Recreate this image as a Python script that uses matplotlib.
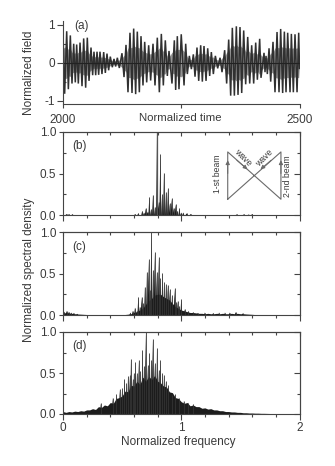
#!/usr/bin/env python3
"""Field trace and three spectra, values read off the published figure."""

import matplotlib
matplotlib.use('Agg')
import numpy as np
import matplotlib.pyplot as plt
from matplotlib.ticker import MultipleLocator

plt.rcParams['font.family'] = ['Liberation Sans', 'DejaVu Sans']

# ── Panel (a): extrema of the field ──────────────────────────────────
time_a = [2000, 2003.5, 2007.8, 2011.3, 2015.5, 2019, 2022.6, 2026, 2028.9, 2032.4,
          2036, 2040.2, 2043.7, 2047.9, 2051.4, 2055, 2059.2, 2062.7, 2065.5, 2069.1,
          2071.9, 2075.4, 2078.2, 2082.4, 2086, 2089.5, 2093, 2096.5, 2100, 2104.3,
          2107.8, 2111.3, 2114.9, 2119.1, 2124.7, 2129, 2133.2, 2137.4, 2141.6, 2145.9,
          2149.4, 2153.6, 2157.1, 2161.4, 2164.9, 2169.1, 2172.7, 2176.9, 2181.1, 2185.3,
          2190.3, 2194.5, 2199.4, 2203.7, 2207.9, 2212.1, 2216.3, 2220.6, 2224.1, 2230.4,
          2235.4, 2238.2, 2241.7, 2245.2, 2250, 2255.9, 2259.4, 2262.9, 2267.1, 2271.4,
          2275.6, 2279.1, 2283.3, 2286.9, 2291.1, 2294.6, 2298.1, 2302.4, 2305.9, 2310.1,
          2313.6, 2317.9, 2322.1, 2327, 2332, 2336.2, 2341.8, 2346, 2350.3, 2354.5,
          2358, 2362.3, 2366.5, 2370, 2374.2, 2377.8, 2382, 2386.2, 2390.5, 2394.7,
          2398.9, 2403.1, 2407.4, 2410.9, 2415.8, 2418.6, 2425, 2427.1, 2429.2, 2432,
          2435.6, 2439.1, 2444, 2448.2, 2452.5, 2456.7, 2460.2, 2464.4, 2468, 2471.5,
          2475, 2480, 2482.8, 2487, 2490.5, 2494.8, 2498.3, 2500]
field_a = [.75, -.82, .83, -.7, .72, -.55, .5, -.52, .48, -.55,
           .53, -.62, .64, -.66, .66, -.48, .4, -.33, .29, -.33,
           .29, -.32, .29, -.3, .28, -.27, .24, -.2, .16, -.12,
           .1, -.1, .13, -.14, .25, -.38, .47, -.78, .79, -.8,
           .9, -.83, .82, -.78, .7, -.6, .55, -.52, .46, -.47,
           .5, -.6, .66, -.78, .76, -.6, .59, -.35, .31, -.55,
           .59, -.72, .7, -.7, .75, -.6, .5, -.3, .18, -.17,
           .22, -.37, .4, -.48, .46, -.5, .44, -.48, .38, -.35,
           .28, -.3, .18, -.15, .13, -.25, .33, -.55, .61, -.87,
           .92, -.87, .96, -.85, .94, -.8, .85, -.57, .68, -.55,
           .46, -.55, .53, -.45, .63, -.4, .26, -.25, .18, -.3,
           .38, -.5, .55, -.78, .81, -.78, .89, -.8, .82, -.78,
           .79, -.78, .76, -.78, .75, -.78, .79, -.15]

# ── Panel (b): spectral lines ────────────────────────────────────────
freq_b = [.03, .05, .08, .61, .637, .67, .685, .70, .715, .73, .745, .761, .778, .795, .808,
          .823, .838, .854, .871, .888, .903, .919, .936, .953, .968, .984, 1.0, 1.017,
          1.045, 1.08, 1.47, 1.53, 1.57, 1.6]
amp_b = [.012, .01, .008, .01, .02, .05, .03, .08, .04, .22, .07, .24, .1, 1.0, .16,
         .735, .25, .51, .28, .32, .14, .2, .09, .13, .05, .08, .03, .03,
         .02, .012, .008, .008, .006, .012]

# ── Panel (c): lines over a dense floor ──────────────────────────────
freq_c = [.01, .03, .05, .07, .09, .12, .57, .59, .609, .626, .637, .65, .665, .68, .693,
          .71, .724, .735, .747, .761, .775, .792, .809, .823, .84, .855, .871, .886,
          .902, .922, .944, .958, .97, .985, 1.0, 1.03, 1.06, 1.1, 1.14, 1.2, 1.27, 1.32,
          1.37, 1.41, 1.46, 1.52]
amp_c = [.04, .05, .04, .03, .025, .015, .03, .05, .09, .05, .22, .1, .22, .14, .34,
         .52, .67, .3, 1.0, .54, .76, .52, .70, .44, .51, .40, .37, .36,
         .31, .24, .32, .16, .17, .11, .19, .07, .05, .035, .025, .03, .025, .03,
         .03, .03, .035, .02]

# ── Panel (d): lines over a broad floor ──────────────────────────────
freq_d = [.32, .42, .45, .48, .50, .519, .535, .55, .563, .575, .59, .60, .612, .625, .640,
          .655, .671, .685, .699, .715, .730, .745, .758, .775, .795, .81, .823, .84,
          .854, .87, .891, .92, .95, .98, 1.02, 1.06, 1.1]
amp_d = [.13, .2, .24, .3, .32, .43, .38, .46, .47, .67, .43, .5, .63, .5, .66,
         .52, .78, .58, 1.0, .6, .75, .66, .92, .62, .8, .54, .66, .5,
         .48, .4, .35, .23, .24, .2, .16, .14, .12]

# floors share one frequency grid, every 0.025
floor_f = np.linspace(0, 2, 81)
floor_c = [.02, .03, .025, .02, .015, .012, .01, .008, .006,
           .005, .004, .004, .003, .003, .003, .003, .003,
           .003, .004, .004, .005, .006, .01, .015, .03,
           .04, .06, .08, .13, .17, .2, .24, .25,
           .25, .22, .2, .18, .14, .1, .08, .06,
           .05, .04, .03, .03, .025, .02, .02, .015,
           .02, .015, .015, .02, .015, .02, .015, .015,
           .02, .015, .02, .015, .015, .012, .01, .008,
           .005, .003, .002, .002, .002, .002, .002, .002,
           .002, .002, .002, .002, .002, .002, .002, .002]
floor_d = [.03, .02, .03, .025, .035, .03, .04, .035, .05,
           .05, .065, .055, .09, .08, .11, .1, .14,
           .13, .19, .2, .22, .28, .27, .35, .34,
           .4, .36, .45, .4, .46, .42, .47, .4,
           .38, .34, .33, .27, .26, .2, .19, .15,
           .13, .14, .1, .11, .09, .09, .07, .075,
           .06, .065, .05, .05, .04, .04, .03, .03,
           .025, .025, .02, .02, .015, .015, .012, .012,
           .01, .01, .008, .008, .007, .006, .006, .005,
           .005, .005, .004, .004, .004, .003, .003, .003]

X_LABELS_A = ['2000', '', '2500']
TEXT = '#3a3a3a'
INK = '#1c1c1c'
EDGE = '#444444'
W, H = 335, 466


def box(top, bottom):
    return [63 / W, 1 - bottom / H, 236.5 / W, (bottom - top) / H]


def spikes(ax, freqs, amps, half=0.008):
    # tapered lines, wide at the foot and thin at the tip
    for f, a in zip(freqs, amps):
        ax.fill([f - half, f, f + half], [0, a, 0], color=INK, linewidth=0)
    ax.vlines(freqs, 0, amps, color='#333333', linewidth=0.6)


def spectrum_axes(top, bottom, name, name_y):
    ax = fig.add_axes(box(top, bottom))
    ax.set_xlim(0, 2)
    ax.set_ylim(0, 1)
    ax.xaxis.set_major_locator(MultipleLocator(1))
    ax.xaxis.set_minor_locator(MultipleLocator(0.2))
    ax.yaxis.set_major_locator(MultipleLocator(0.5))
    ax.yaxis.set_minor_locator(MultipleLocator(0.25))
    ax.yaxis.set_major_formatter('{x:.1f}')
    ax.tick_params(which='both', color=EDGE, labelcolor=TEXT, labelsize=8.5, width=0.8, pad=2)
    ax.tick_params(axis='x', which='major', direction='out', length=4, labelbottom=False)
    ax.tick_params(axis='x', which='minor', direction='out', length=2.5)
    ax.tick_params(axis='y', which='major', direction='out', length=3)
    ax.tick_params(axis='y', which='minor', direction='in', length=2)

    # top and right ticks point inward, unlike bottom and left
    top_ax = ax.secondary_xaxis('top')
    top_ax.xaxis.set_major_locator(MultipleLocator(1))
    top_ax.xaxis.set_minor_locator(MultipleLocator(0.2))
    top_ax.tick_params(which='major', direction='in', length=3, width=0.8, color=EDGE, labeltop=False)
    top_ax.tick_params(which='minor', direction='in', length=2.5, width=0.8, color=EDGE)
    right_ax = ax.secondary_yaxis('right')
    right_ax.yaxis.set_major_locator(MultipleLocator(0.5))
    right_ax.yaxis.set_minor_locator(MultipleLocator(0.25))
    right_ax.tick_params(which='major', direction='in', length=4, width=0.8, color=EDGE, labelright=False)
    right_ax.tick_params(which='minor', direction='in', length=2.5, width=0.8, color=EDGE)
    for a in [ax, top_ax, right_ax]:
        for s in a.spines.values():
            s.set_color(EDGE)
            s.set_linewidth(0.8)
    ax.text(0.041, name_y, name, transform=ax.transAxes, fontsize=8.5, color=TEXT, va='center')
    return ax


fig = plt.figure(figsize=(W / 100, H / 100), dpi=100)

# ── Plot (a) ─────────────────────────────────────────────────────────
ax_a = fig.add_axes(box(21, 104))
reach = np.abs(field_a) * 0.5
ax_a.fill_between(time_a, -reach, reach, color='#949494', linewidth=0)
ax_a.plot(time_a, field_a, color='#303030', linewidth=1.1, solid_joinstyle='miter')
ax_a.axhline(0, color='#222222', linewidth=0.8)
ax_a.set_xlim(2000, 2500)
ax_a.set_ylim(-1.09, 1.1)
ax_a.set_xticks([2000, 2250, 2500], X_LABELS_A)
ax_a.set_yticks([-1, 0, 1], ['-1', '0', '1'])
ax_a.set_yticks([-0.5, 0.5], minor=True)
ax_a.tick_params(axis='x', colors=EDGE, labelcolor=TEXT, labelsize=8.5, width=0.8, length=3, pad=4)
ax_a.tick_params(axis='y', colors=EDGE, labelcolor=TEXT, labelsize=8.5, width=0.8, length=4, pad=2)
ax_a.tick_params(axis='y', which='minor', length=2, width=0.8, color=EDGE, direction='in')
ax_a.spines['top'].set_visible(False)
ax_a.spines['right'].set_visible(False)
for side in ['left', 'bottom']:
    ax_a.spines[side].set_color(EDGE)
    ax_a.spines[side].set_linewidth(0.8)
ax_a.text(0.046, 0.935, '(a)', transform=ax_a.transAxes, fontsize=8.5, color=TEXT, va='center')

# ── Plots (b)-(d) ────────────────────────────────────────────────────
ax_b = spectrum_axes(132, 215, '(b)', 0.835)
spikes(ax_b, freq_b, amp_b)
ax_b.vlines(.795, 0, 1, color='#555555', linewidth=0.9)

ax_c = spectrum_axes(232, 315, '(c)', 0.82)
ax_c.fill_between(floor_f, 0, floor_c, color=INK, linewidth=0)
spikes(ax_c, freq_c, amp_c)

ax_d = spectrum_axes(332, 414, '(d)', 0.83)
ax_d.fill_between(floor_f, 0, floor_d, color=INK, linewidth=0)
spikes(ax_d, freq_d, amp_d)
ax_d.set_xticks([0, 1, 2], ['0', '1', '2'])
ax_d.tick_params(axis='x', which='major', labelbottom=True, pad=2)

# ── Beam sketch in panel (b) ─────────────────────────────────────────
GREY = '#6a6a6a'
ax_b.plot([1.393, 1.393, 1.843, 1.843, 1.393], [.19, .76, .19, .76, .19], color=GREY, linewidth=0.8)
for start, end in [((1.393, .5), (1.393, .66)), ((1.843, .5), (1.843, .66)),
                   ((1.47, .66), (1.56, .55)), ((1.76, .66), (1.67, .55))]:
    ax_b.annotate('', xy=end, xytext=start,
                  arrowprops=dict(arrowstyle='-|>', color=GREY, lw=0.7, mutation_scale=6, shrinkA=0, shrinkB=0))
ax_b.text(1.52, .69, 'wave', rotation=-45, fontsize=6.2, color=TEXT, ha='center', va='center')
ax_b.text(1.70, .69, 'wave', rotation=45, fontsize=6.2, color=TEXT, ha='center', va='center')
ax_b.text(1.31, .5, '1-st beam', rotation=90, fontsize=6.2, color=TEXT, ha='center', va='center')
ax_b.text(1.895, .47, '2-nd beam', rotation=90, fontsize=6.2, color=TEXT, ha='center', va='center')

# ── Shared labels ────────────────────────────────────────────────────
fig.text(180 / W, 1 - 118 / H, 'Normalized time', fontsize=8.2, color=TEXT, ha='center', va='center')
fig.text(178 / W, 1 - 441.5 / H, 'Normalized frequency', fontsize=8.5, color=TEXT, ha='center', va='center')
fig.text(29 / W, 1 - 73 / H, 'Normalized field', fontsize=8.5, color=TEXT, rotation=90, ha='center', va='center')
fig.text(29 / W, 1 - 270 / H, 'Normalized spectral density', fontsize=8.5, color=TEXT, rotation=90, ha='center', va='center')

fig.savefig('out.png', dpi=100)
